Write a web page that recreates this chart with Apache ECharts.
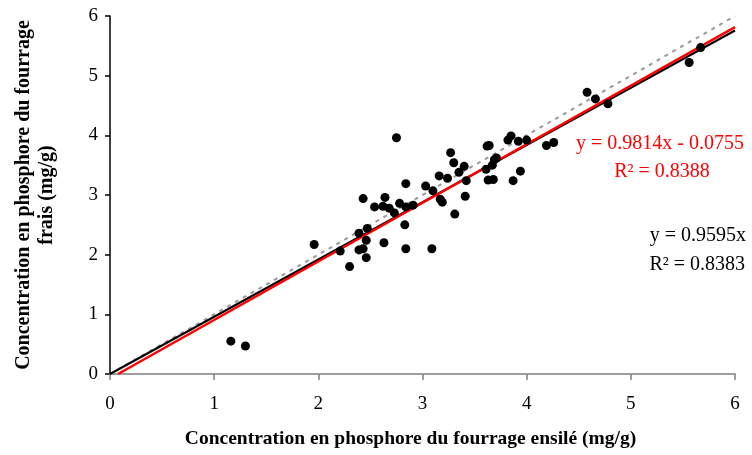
<!DOCTYPE html>
<html>
<head>
<meta charset="utf-8">
<script src="https://cdn.jsdelivr.net/npm/echarts@6/dist/echarts.min.js"></script>
<style>
  html, body { margin: 0; padding: 0; background: #fff; }
  #chart { width: 752px; height: 455px; }
</style>
</head>
<body>
<div id="chart"></div>
<script>
// points: [ensile, frais] en mg/g
const points = [
  [1.16, 0.55], [1.30, 0.47], [1.96, 2.17], [2.21, 2.06], [2.30, 1.80],
  [2.39, 2.36], [2.39, 2.08], [2.43, 2.10], [2.43, 2.94], [2.46, 2.24],
  [2.46, 1.95], [2.47, 2.44], [2.54, 2.80], [2.62, 2.81], [2.64, 2.96],
  [2.63, 2.20], [2.68, 2.78], [2.73, 2.70], [2.75, 3.96], [2.78, 2.86],
  [2.84, 2.80], [2.83, 2.50], [2.84, 3.19], [2.84, 2.10], [2.91, 2.83],
  [3.03, 3.15], [3.09, 2.10], [3.10, 3.07], [3.17, 2.93], [3.19, 2.88],
  [3.16, 3.32], [3.24, 3.28], [3.27, 3.71], [3.30, 3.54], [3.31, 2.68],
  [3.35, 3.38], [3.40, 3.48], [3.41, 2.98], [3.42, 3.24], [3.61, 3.43],
  [3.62, 3.82], [3.64, 3.83], [3.63, 3.25], [3.67, 3.50], [3.69, 3.59],
  [3.71, 3.62], [3.68, 3.26], [3.82, 3.92], [3.85, 3.99], [3.87, 3.24],
  [3.92, 3.90], [3.94, 3.40], [4.00, 3.92], [4.19, 3.83], [4.26, 3.88],
  [4.58, 4.72], [4.66, 4.61], [4.78, 4.53], [5.56, 5.22], [5.67, 5.47]
];

// droites de tendance
const blackLine = [[0, 0], [6, 5.757]];       // y = 0.9595x
const redLine = [[0.077, 0], [6, 5.813]];     // y = 0.9814x - 0.0755
const identityLine = [[0, 0], [6, 6]];        // y = x

const redEquation = ['y = 0.9814x - 0.0755', 'R² = 0.8388'];
const blackEquation = ['y = 0.9595x', 'R² = 0.8383'];

const serif = 'Liberation Serif';
const eqFont = '20px "Liberation Serif"';

const chart = echarts.init(document.getElementById('chart'));

function eqText(text, x, y, align, color) {
  return {
    type: 'text',
    x: x,
    y: y,
    style: { text: text, font: eqFont, fill: color, align: align, verticalAlign: 'middle' }
  };
}

const option = {
  backgroundColor: '#fff',
  animation: false,
  grid: { left: 110, right: 17, top: 16, bottom: 81 },
  xAxis: {
    type: 'value',
    min: 0,
    max: 6,
    interval: 1,
    name: 'Concentration en phosphore du fourrage ensilé (mg/g)',
    nameLocation: 'middle',
    nameGap: 55,
    nameTextStyle: {
      fontFamily: serif,
      fontSize: 19.5,
      fontWeight: 'bold',
      color: '#000',
      padding: [0, 24, 0, 0]
    },
    axisLine: { show: true, onZero: false, lineStyle: { color: '#808080', width: 1.5 } },
    axisTick: { show: true, length: 6, lineStyle: { color: '#808080', width: 1.5 } },
    axisLabel: { fontFamily: serif, fontSize: 19, color: '#000', margin: 21 },
    splitLine: { show: false }
  },
  yAxis: {
    type: 'value',
    min: 0,
    max: 6,
    interval: 1,
    name: 'Concentration en phosphore du fourrage\nfrais (mg/g)',
    nameLocation: 'middle',
    nameGap: 52,
    nameTextStyle: {
      fontFamily: serif,
      fontSize: 20,
      fontWeight: 'bold',
      color: '#000',
      lineHeight: 23
    },
    axisLine: { show: true, lineStyle: { color: '#000', width: 1.5 } },
    axisTick: { show: true, length: 5, lineStyle: { color: '#000', width: 1.5 } },
    axisLabel: { fontFamily: serif, fontSize: 19, color: '#000', margin: 12 },
    splitLine: { show: false }
  },
  series: [
    {
      type: 'line',
      data: identityLine,
      showSymbol: false,
      lineStyle: { color: '#9a9a9a', width: 2, type: [4, 5] },
      z: 2
    },
    {
      type: 'line',
      data: blackLine,
      showSymbol: false,
      lineStyle: { color: '#000', width: 2 },
      z: 3
    },
    {
      type: 'line',
      data: redLine,
      showSymbol: false,
      lineStyle: { color: '#ff0000', width: 2.5 },
      z: 4
    },
    {
      type: 'scatter',
      data: points,
      symbol: 'circle',
      symbolSize: 9,
      itemStyle: { color: '#000', opacity: 1 },
      z: 5
    }
  ],
  graphic: [
    eqText(redEquation[0], 660, 144, 'center', '#ff0000'),
    eqText(redEquation[1], 662, 172, 'center', '#ff0000'),
    eqText(blackEquation[0], 746, 236, 'right', '#000'),
    eqText(blackEquation[1], 745, 265, 'right', '#000')
  ]
};

chart.setOption(option);
</script>
</body>
</html>
